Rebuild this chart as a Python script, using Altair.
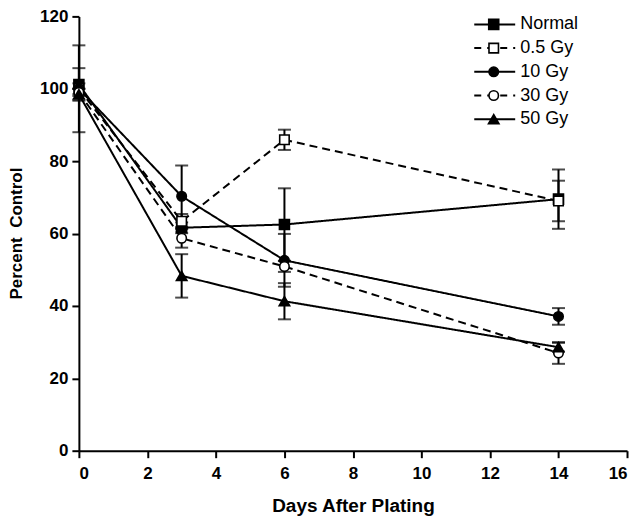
import altair as alt
import pandas as pd

DAYS = [0, 3, 6, 14]
SERIES = ["Normal", "0.5 Gy", "10 Gy", "30 Gy", "50 Gy"]
NORMAL = [101.2, 61.6, 62.5, 69.5]
NORMAL_ERR = [4.5, 1.5, 10.0, 8.2]
GY05 = [100.0, 63.4, 85.9, 69.0]
GY05_ERR = [1.5, 2.0, 2.8, 5.6]
GY10 = [100.0, 70.3, 52.6, 37.1]
GY10_ERR = [12.0, 8.5, 7.3, 2.3]
GY30 = [99.0, 58.7, 50.9, 27.0]
GY30_ERR = [1.0, 2.6, 1.5, 3.0]
GY50 = [98.5, 48.3, 41.3, 28.6]
GY50_ERR = [1.5, 6.0, 5.0, 1.2]

VALUES = [NORMAL, GY05, GY10, GY30, GY50]
ERRORS = [NORMAL_ERR, GY05_ERR, GY10_ERR, GY30_ERR, GY50_ERR]

# styles
SHAPES = ["square", "square", "circle", "circle", "triangle-up"]
FILLS = ["black", "white", "black", "white", "black"]
SIZES = [100, 90, 90, 90, 110]
DASHES = [[1, 0], [8, 5], [1, 0], [8, 5], [1, 0]]
LEG_DASHES = [[1, 0], [7, 6], [1, 0], [7, 6], [1, 0]]

rows = []
for s, vals, errs in zip(SERIES, VALUES, ERRORS):
    for d, v, e in zip(DAYS, vals, errs):
        rows.append({"series": s, "day": d, "value": v, "lo": v - e, "hi": v + e})
df = pd.DataFrame(rows)
leg_df = pd.DataFrame({"series": SERIES})

FONT = "Liberation Sans"

x_enc = alt.X(
    "day:Q",
    scale=alt.Scale(domain=[0, 16], nice=False, zero=False),
    axis=alt.Axis(values=list(range(0, 17, 2)), title="Days After Plating",
                  titleY=61, titleBaseline="alphabetic", labelPadding=8,
                  titleFontSize=19),
    title="Days After Plating",
)


def y_enc(field):
    return alt.Y(
        f"{field}:Q",
        scale=alt.Scale(domain=[0, 120], nice=False),
        axis=alt.Axis(values=list(range(0, 121, 20)), title="Percent\u00a0 Control",
                      titleX=-62, titleY=217, titleBaseline="middle", titleAngle=-90,
                      labelPadding=4, titleFontSize=17),
        title="Percent\u00a0 Control",
    )


dash_enc = alt.StrokeDash("series:N", scale=alt.Scale(domain=SERIES, range=DASHES), legend=None)

base = alt.Chart(df)

lines = base.mark_line(color="black", strokeWidth=2).encode(
    x=x_enc, y=y_enc("value"), detail="series:N", strokeDash=dash_enc,
)
bars = base.mark_rule(color="black", strokeWidth=2).encode(
    x=x_enc, y=y_enc("lo"), y2="hi:Q"
)
cap_lo = base.mark_tick(color="black", thickness=2, size=13, orient="horizontal").encode(
    x=x_enc, y=y_enc("lo")
)
cap_hi = base.mark_tick(color="black", thickness=2, size=13, orient="horizontal").encode(
    x=x_enc, y=y_enc("hi")
)

markers = []
for s, shp, fl, sz in zip(SERIES, SHAPES, FILLS, SIZES):
    markers.append(
        base.transform_filter(alt.datum.series == s)
        .mark_point(shape=shp, filled=True, fill=fl, stroke="black", strokeWidth=1.6, size=sz, opacity=1)
        .encode(x=x_enc, y=y_enc("value"))
    )

main = alt.layer(lines, bars, cap_lo, cap_hi, *markers)

# legend (top right, inside the plot)
leg_y = alt.Y("series:N", scale=alt.Scale(type="point", domain=SERIES, range=[8, 103], padding=0), axis=None)
leg_base = alt.Chart(leg_df)
leg_lines = leg_base.mark_rule(color="black", strokeWidth=2).encode(
    x=alt.value(396), x2=alt.value(437), y=leg_y,
    strokeDash=alt.StrokeDash("series:N", scale=alt.Scale(domain=SERIES, range=LEG_DASHES), legend=None),
)
leg_marks = []
for s, shp, fl, sz in zip(SERIES, SHAPES, FILLS, SIZES):
    leg_marks.append(
        leg_base.transform_filter(alt.datum.series == s)
        .mark_point(shape=shp, filled=True, fill=fl, stroke="black", strokeWidth=1.6, size=sz, opacity=1)
        .encode(x=alt.value(415.5), y=leg_y)
    )
leg_text = leg_base.mark_text(
    align="left", baseline="middle", font=FONT, fontSize=18, color="black"
).encode(x=alt.value(442), y=leg_y, text="series:N")

legend = alt.layer(leg_lines, *leg_marks, leg_text)

chart = alt.layer(main, legend).resolve_scale(y="independent", strokeDash="independent").properties(
    width=549, height=435,
    autosize=alt.AutoSizeParams(type="none"),
    padding={"left": 71, "top": 8, "right": 8, "bottom": 66},
).configure_view(stroke=None).configure_axis(
    grid=False,
    domainColor="black", domainWidth=2,
    tickColor="black", tickWidth=2, tickSize=7,
    labelFont=FONT, labelFontSize=17, labelFontWeight="bold", labelColor="black",
    titleFont=FONT, titleFontWeight="bold", titleColor="black",
)

chart.save("out.html", embed_options={"renderer": "svg", "actions": False})
